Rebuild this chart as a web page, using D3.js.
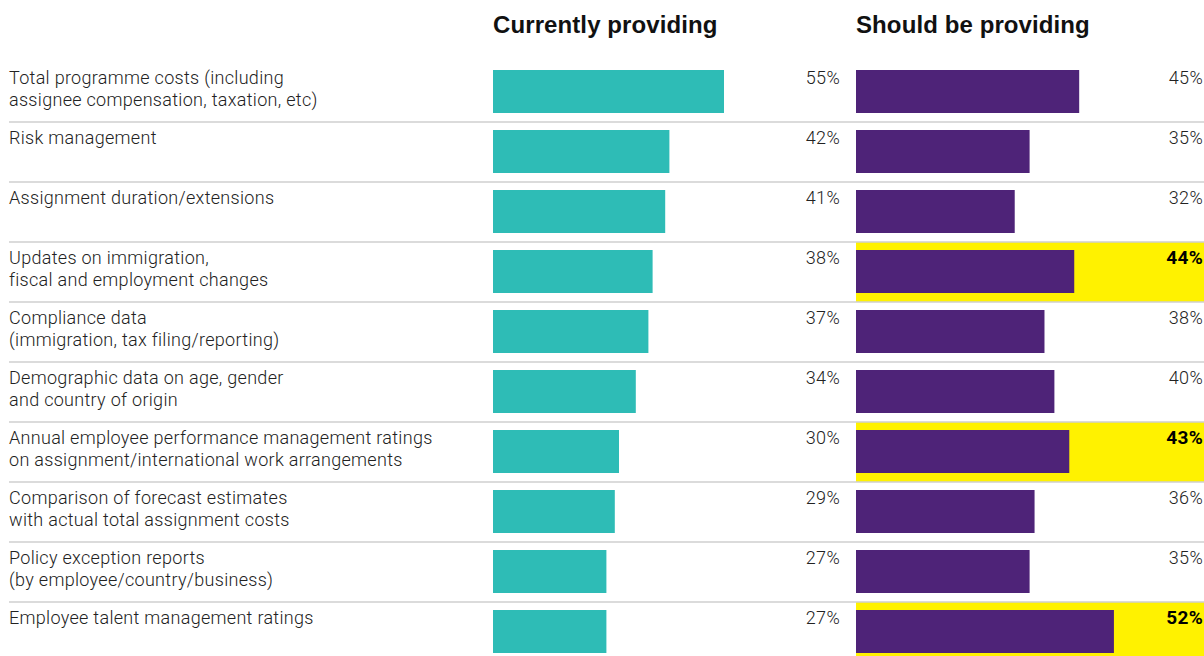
<!DOCTYPE html>
<html>
<head>
<meta charset="utf-8">
<script src="https://cdn.jsdelivr.net/npm/d3@7/dist/d3.min.js"></script>
<style>
  html, body { margin: 0; padding: 0; background: #fff; }
  svg { display: block; }
</style>
</head>
<body>
<svg id="chart" width="1204" height="656"></svg>
<script>
// Information that mobility programmes are / should be providing
const categories = [
  ["Total programme costs (including", "assignee compensation, taxation, etc)"],
  ["Risk management"],
  ["Assignment duration/extensions"],
  ["Updates on immigration,", "fiscal and employment changes"],
  ["Compliance data", "(immigration, tax filing/reporting)"],
  ["Demographic data on age, gender", "and country of origin"],
  ["Annual employee performance management ratings", "on assignment/international work arrangements"],
  ["Comparison of forecast estimates", "with actual total assignment costs"],
  ["Policy exception reports", "(by employee/country/business)"],
  ["Employee talent management ratings"]
];
const currentValues = [55, 42, 41, 38, 37, 34, 30, 29, 27, 27];
const shouldValues  = [45, 35, 32, 44, 38, 40, 43, 36, 35, 52];
const highlighted   = [false, false, false, true, false, false, true, false, false, true];
const columnTitles  = ["Currently providing", "Should be providing"];

const svg = d3.select("#chart");
const W = 1204;
const rowTop = 62, rowH = 60, barOff = 8, barH = 43;

const y = d3.scaleBand()
  .domain(d3.range(categories.length))
  .range([rowTop, rowTop + rowH * categories.length])
  .paddingInner(0).paddingOuter(0);

const x1 = d3.scaleLinear().domain([0, 100]).range([493, 493 + 420]);
const x2 = d3.scaleLinear().domain([0, 100]).range([856, 856 + 496]);

const labelFont = "Roboto, 'Liberation Sans', sans-serif";

// Column headers
svg.selectAll("text.head")
  .data(columnTitles)
  .join("text")
  .attr("class", "head")
  .attr("x", (d, i) => i === 0 ? x1(0) : x2(0))
  .attr("y", 33)
  .attr("font-family", "'Liberation Sans', Arial, sans-serif")
  .attr("font-weight", 700)
  .attr("font-size", 24)
  .attr("letter-spacing", 0.1)
  .attr("fill", "#111")
  .text(d => d);

const rows = svg.selectAll("g.row")
  .data(categories.map((c, i) => ({ c, i, cur: currentValues[i], sh: shouldValues[i], hi: highlighted[i] })))
  .join("g")
  .attr("class", "row")
  .attr("transform", d => `translate(0,${y(d.i)})`);

// Highlight background for the "should" column
rows.filter(d => d.hi)
  .append("rect")
  .attr("x", x2(0))
  .attr("y", 0)
  .attr("width", W - x2(0))
  .attr("height", rowH)
  .attr("fill", "#fff200");

// Row separators
rows.filter(d => d.i > 0)
  .append("line")
  .attr("x1", 9).attr("x2", W)
  .attr("y1", 0).attr("y2", 0)
  .attr("stroke", "#cfcfcf")
  .attr("stroke-width", 1.5);

// Category labels
rows.append("text")
  .attr("x", 9)
  .attr("y", 22)
  .attr("font-family", labelFont)
  .attr("font-weight", 300)
  .attr("font-size", 18)
  .attr("letter-spacing", 0.3)
  .attr("fill", "#222")
  .selectAll("tspan")
  .data(d => d.c)
  .join("tspan")
  .attr("x", 9)
  .attr("dy", (d, j) => j === 0 ? 0 : 22)
  .text(d => d);

// Current bars
rows.append("rect")
  .attr("x", x1(0))
  .attr("y", barOff)
  .attr("width", d => x1(d.cur) - x1(0))
  .attr("height", barH)
  .attr("fill", "#2ebcb6");

// Should bars
rows.append("rect")
  .attr("x", x2(0))
  .attr("y", barOff)
  .attr("width", d => x2(d.sh) - x2(0))
  .attr("height", barH)
  .attr("fill", "#4e2378");

// Value labels
rows.append("text")
  .attr("x", 840)
  .attr("y", 22)
  .attr("text-anchor", "end")
  .attr("font-family", labelFont)
  .attr("font-weight", 300)
  .attr("font-size", 18)
  .attr("letter-spacing", 0.3)
  .attr("fill", "#222")
  .text(d => d.cur + "%");

rows.append("text")
  .attr("x", 1203)
  .attr("y", 22)
  .attr("text-anchor", "end")
  .attr("font-family", labelFont)
  .attr("font-weight", d => d.hi ? 700 : 300)
  .attr("font-size", d => d.hi ? 19 : 18)
  .attr("letter-spacing", 0.3)
  .attr("fill", d => d.hi ? "#000" : "#222")
  .text(d => d.sh + "%");
</script>
</body>
</html>
